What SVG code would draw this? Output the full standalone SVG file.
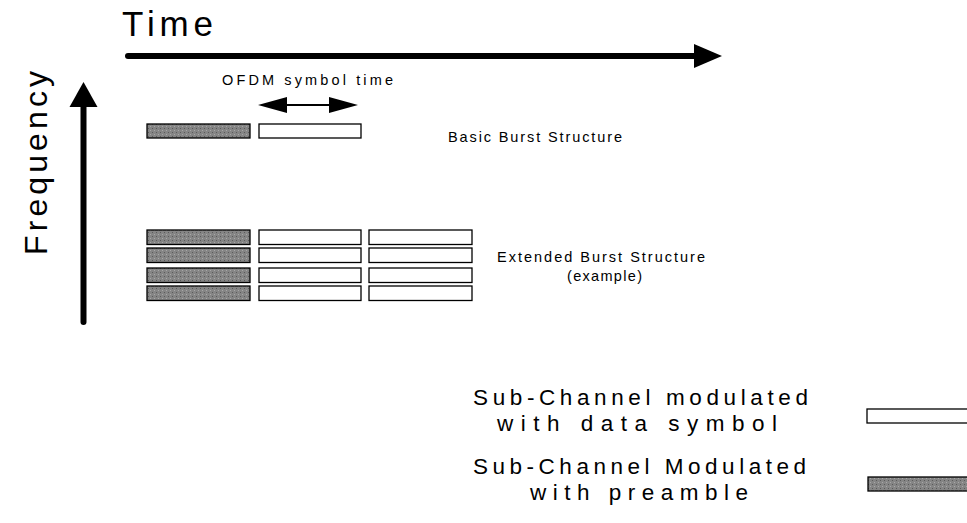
<svg xmlns="http://www.w3.org/2000/svg" width="967" height="523" viewBox="0 0 967 523">
<defs>
<pattern id="dots" width="4" height="4" patternUnits="userSpaceOnUse">
<rect width="4" height="4" fill="#858585"/>
<rect x="0" y="0" width="1" height="1" fill="#5a5a5a"/>
<rect x="2" y="2" width="1" height="1" fill="#a8a8a8"/>
</pattern>
</defs>
<style>
text{font-family:"Liberation Sans",Arial,sans-serif;fill:#000}
.pre{fill:url(#dots);stroke:#000;stroke-width:1.3}
.dat{fill:#fff;stroke:#000;stroke-width:1.3}
.axis{stroke:#000;stroke-width:6;stroke-linecap:round;fill:none}
.head{fill:#000}
.sm{font-size:14.5px}
.lg{font-size:22.5px}
</style>
<rect width="967" height="523" fill="#fff"/>
<g id="connectors">
<line class="axis" x1="128" y1="56" x2="696" y2="56"/>
<polygon class="head" points="694,44 722,56 694,68"/>
<line class="axis" x1="83.5" y1="322" x2="83.5" y2="104"/>
<polygon class="head" points="69.5,107 83.5,82 97.5,107"/>
<line x1="282" y1="105" x2="334" y2="105" stroke="#000" stroke-width="2"/>
<polygon class="head" points="258,105 287,97 287,113"/>
<polygon class="head" points="358,105 329,97 329,113"/>
</g>
<g id="labels">
<text x="122" y="36" font-size="35" textLength="91" lengthAdjust="spacing">Time</text>
<text transform="translate(47,255) rotate(-90)" font-size="32" textLength="184" lengthAdjust="spacing">Frequency</text>
<text x="222" y="85" class="sm" textLength="171" lengthAdjust="spacing">OFDM symbol time</text>
</g>
<g id="basic-burst">
<rect class="pre" x="147" y="124" width="103" height="14"/>
<rect class="dat" x="259" y="124" width="102" height="14"/>
<text x="448" y="142" class="sm" textLength="174" lengthAdjust="spacing">Basic Burst Structure</text>
</g>
<g id="extended-burst">
<rect class="pre" x="147" y="230" width="103" height="14.5"/>
<rect class="dat" x="259" y="230" width="102" height="14.5"/>
<rect class="dat" x="369" y="230" width="103" height="14.5"/>
<rect class="pre" x="147" y="248" width="103" height="14.5"/>
<rect class="dat" x="259" y="248" width="102" height="14.5"/>
<rect class="dat" x="369" y="248" width="103" height="14.5"/>
<rect class="pre" x="147" y="268" width="103" height="14.5"/>
<rect class="dat" x="259" y="268" width="102" height="14.5"/>
<rect class="dat" x="369" y="268" width="103" height="14.5"/>
<rect class="pre" x="147" y="286" width="103" height="14.5"/>
<rect class="dat" x="259" y="286" width="102" height="14.5"/>
<rect class="dat" x="369" y="286" width="103" height="14.5"/>
<text x="497" y="262" class="sm" textLength="208" lengthAdjust="spacing">Extended Burst Structure</text>
<text x="567" y="281" class="sm" textLength="75" lengthAdjust="spacing">(example)</text>
</g>
<g id="legend-data">
<text x="473" y="405" class="lg" textLength="335" lengthAdjust="spacing">Sub-Channel modulated</text>
<text x="497" y="431" class="lg" textLength="280" lengthAdjust="spacing">with data symbol</text>
<rect class="dat" x="867" y="409" width="110" height="14"/>
</g>
<g id="legend-preamble">
<text x="473" y="474" class="lg" textLength="333" lengthAdjust="spacing">Sub-Channel Modulated</text>
<text x="530" y="500" class="lg" textLength="218" lengthAdjust="spacing">with preamble</text>
<rect class="pre" x="868" y="477" width="110" height="14"/>
</g>
</svg>
